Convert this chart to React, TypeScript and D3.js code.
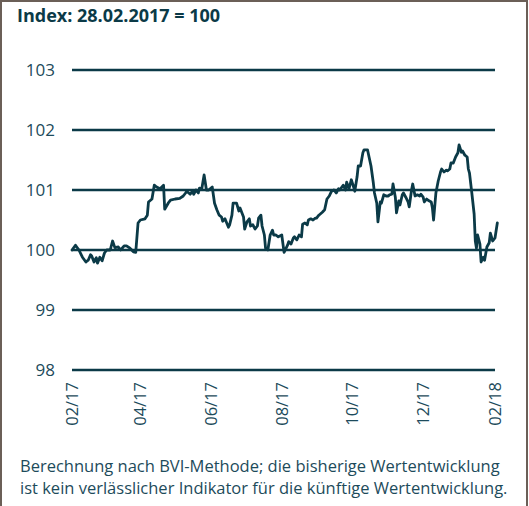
import React from "react";
import * as d3 from "d3";

const START = "2017-02-28";
const dayOffsets: number[] = [
  0, 3, 6, 9, 12, 14, 16, 17, 19, 21, 22, 24, 26, 28, 30, 33, 35, 37, 40, 42, 45, 47, 50, 53, 55,
  57, 59, 63, 65, 66, 69, 71, 73, 76, 79, 80, 83, 85, 89, 93, 96, 98, 99, 102, 104, 105, 107, 109,
  110, 112, 114, 116, 118, 121, 123, 125, 127, 129, 130, 132, 135, 136, 138, 139, 142, 144, 145,
  147, 148, 149, 151, 153, 154, 156, 158, 160, 161, 163, 164, 166, 167, 169, 171, 173, 174, 176,
  178, 181, 183, 186, 187, 189, 191, 192, 194, 196, 198, 199, 201, 203, 204, 206, 208, 210, 211,
  213, 216, 218, 220, 222, 224, 226, 228, 230, 231, 234, 236, 237, 239, 241, 243, 244, 246, 247,
  249, 251, 252, 255, 256, 258, 260, 261, 263, 264, 266, 267, 269, 271, 273, 274, 276, 277, 279,
  280, 282, 283, 285, 286, 288, 290, 291, 293, 294, 296, 298, 300, 301, 303, 304, 306, 308, 310,
  311, 312, 314, 316, 318, 319, 321, 323, 324, 326, 327, 329, 331, 333, 334, 336, 337, 339, 341,
  342, 343, 345, 347, 348, 349, 350, 352, 353, 355, 356, 358, 360, 361, 363, 365, 367,
];
const indexValues: number[] = [
  100.0, 100.08, 100.0, 99.88, 99.8, 99.83, 99.92, 99.9, 99.8, 99.87, 99.78, 99.88, 99.82, 99.95,
  100.0, 100.0, 100.15, 100.04, 100.05, 100.0, 100.07, 100.07, 100.03, 99.97, 99.96,
  100.45, 100.5, 100.52, 100.58, 100.8, 100.85, 101.08, 101.05, 101.02, 101.08, 100.68, 100.78,
  100.83, 100.85, 100.86, 100.9, 100.95, 100.98, 100.93, 100.98, 100.93, 101.0, 100.95,
  101.03, 101.02, 101.25, 101.0, 101.0, 101.05, 100.78, 100.67, 100.58, 100.55, 100.48, 100.52,
  100.38, 100.42, 100.58, 100.78, 100.78, 100.65, 100.7,
  100.6, 100.55, 100.35, 100.47, 100.52, 100.4, 100.42, 100.35, 100.4, 100.53, 100.58, 100.4,
  100.25, 100.03, 100.0, 100.25, 100.33, 100.25, 100.25,
  100.22, 100.25, 99.96, 100.08, 100.14, 100.1, 100.2, 100.22, 100.17, 100.25, 100.22, 100.43,
  100.45, 100.42, 100.5, 100.52, 100.5, 100.53, 100.53,
  100.58, 100.63, 100.67, 100.85, 100.9, 100.98, 101.0, 100.95, 101.02, 101.0, 101.08, 101.0,
  101.13, 101.02, 101.17, 101.05, 100.98, 101.22, 101.4,
  101.4, 101.62, 101.67, 101.67, 101.58, 101.4, 101.12, 100.95, 100.78, 100.47, 100.8, 100.78,
  100.92, 100.9, 100.9, 100.92, 100.93, 101.1, 100.88,
  100.62, 100.82, 100.75, 100.92, 100.95, 100.88, 100.8, 100.72, 101.0, 101.1, 100.9, 100.92,
  100.9, 100.93, 100.88, 100.8, 100.85, 100.82, 100.8,
  100.7, 100.5, 100.95, 101.15, 101.3, 101.35, 101.3, 101.33, 101.32, 101.35, 101.45, 101.45,
  101.55, 101.62, 101.75, 101.63, 101.65, 101.58, 101.55,
  101.35, 101.28, 100.95, 100.6, 100.15, 100.03, 100.25, 100.1, 99.8, 99.88, 99.83, 100.05, 100.12,
  100.28, 100.15, 100.2, 100.45,
];
const yTicks: number[] = [98, 99, 100, 101, 102, 103];
const xTickLabels: string[] = ["02/17", "04/17", "06/17", "08/17", "10/17", "12/17", "02/18"];
const xTickDates: string[] = [
  "2017-02-28", "2017-04-28", "2017-06-28", "2017-08-28", "2017-10-28", "2017-12-28", "2018-02-28",
];
const titleText = "Index: 28.02.2017 = 100";
const footerLines: string[] = [
  "Berechnung nach BVI-Methode; die bisherige Wertentwicklung",
  "ist kein verlässlicher Indikator für die künftige Wertentwicklung.",
];

const W = 529;
const H = 506;
const DARK = "#0b3a47";
const TEXT = "#1d4b5b";
const FONT = "'Open Sans', sans-serif";

export default function App() {
  const parse = d3.timeParse("%Y-%m-%d");
  const start = parse(START)!;
  const data = dayOffsets.map((d, i) => ({ date: d3.timeDay.offset(start, d), v: indexValues[i] }));

  const x = d3
    .scaleTime()
    .domain([parse(xTickDates[0])!, parse(xTickDates[xTickDates.length - 1])!])
    .range([72, 495]);
  const y = d3.scaleLinear().domain([98, 103]).range([370, 70]);

  const line = d3
    .line<{ date: Date; v: number }>()
    .x((d) => x(d.date))
    .y((d) => y(d.v))
    .curve(d3.curveLinear);

  return (
    <svg
      width={W}
      height={H}
      style={{ position: "absolute", left: 0, top: 0, display: "block" }}
      fontFamily={FONT}
    >
      <rect x={0} y={0} width={W} height={H} fill="#ffffff" />
      {/* frame */}
      <line x1={1} y1={1} x2={W - 2} y2={1} stroke="#6b5f57" strokeWidth={2} />
      <line x1={1} y1={0} x2={1} y2={H} stroke="#6b5f57" strokeWidth={2} />
      <line x1={W - 2} y1={0} x2={W - 2} y2={H} stroke="#6b5f57" strokeWidth={2} />

      <text x={17} y={22} fontSize={18} fontWeight="bold" fill={DARK}>
        {titleText}
      </text>

      {yTicks.map((t) => (
        <g key={t}>
          <line x1={72} x2={495} y1={y(t)} y2={y(t)} stroke={DARK} strokeWidth={2.5} />
          <text x={55} y={y(t)} dy="0.35em" textAnchor="end" fontSize={17} fill={TEXT}>
            {t}
          </text>
        </g>
      ))}

      {xTickDates.map((d, i) => {
        const xp = x(parse(d)!);
        return (
          <text
            key={d}
            transform={`translate(${xp},382) rotate(-90)`}
            textAnchor="end"
            dy="0.35em"
            fontSize={16.5}
            fill={TEXT}
          >
            {xTickLabels[i]}
          </text>
        );
      })}

      <path
        d={line(data) || ""}
        fill="none"
        stroke={DARK}
        strokeWidth={2.8}
        strokeLinejoin="round"
        strokeLinecap="round"
      />

      {footerLines.map((l, i) => (
        <text key={i} x={20} y={472 + i * 21.5} fontSize={16.5} fill={TEXT}>
          {l}
        </text>
      ))}
    </svg>
  );
}
